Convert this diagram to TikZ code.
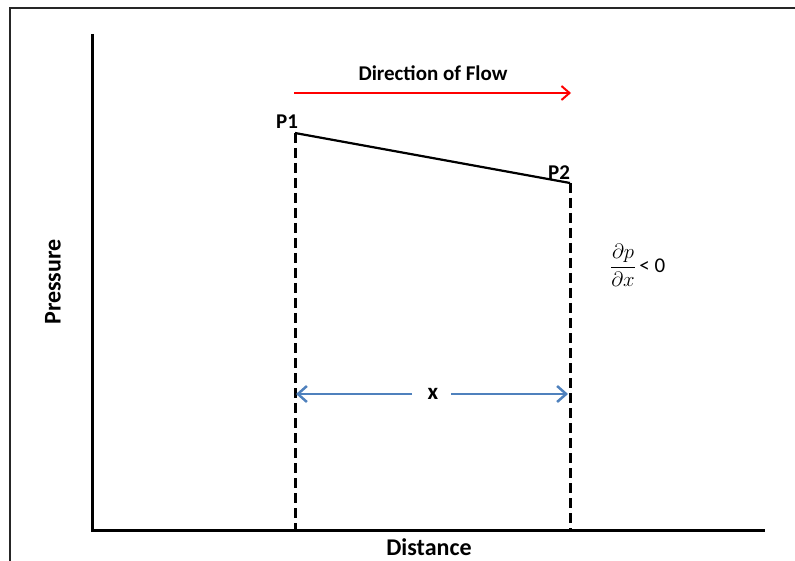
\documentclass[tikz,border=0pt]{standalone}
\usepackage{amsmath}
\usepackage{fontspec}
\setmainfont{Carlito}
\usetikzlibrary{arrows.meta}
\definecolor{flowred}{RGB}{255,0,0}
\definecolor{dimblue}{RGB}{79,129,189}
\tikzset{
  axisline/.style={line width=3pt, black},
  dashline/.style={line width=3pt, black, dash pattern=on 10pt off 5pt},
  lbl/.style={font=\fontsize{21}{25}\selectfont\bfseries, inner sep=0pt},
  axlbl/.style={font=\fontsize{24}{28}\selectfont\bfseries, inner sep=0pt},
  barb/.style={-{Straight Barb[length=9pt,width=16pt,line width=2.5pt]}},
}
\begin{document}
\begin{tikzpicture}[x=1pt,y=-1pt]
\useasboundingbox (0,0) rectangle (795,561);
% frame
\draw[line width=2pt, black!85] (9.5,561) -- (9.5,8) -- (795,8);
% axes
\coordinate (ytop) at (92,34);
\coordinate (orig) at (92,530);
\coordinate (xend) at (765,530);
\draw[axisline] (ytop) -- (orig) -- (xend);
% points
\coordinate (p1) at (295,133);
\coordinate (p2) at (570,183);
\coordinate (b1) at (295,531);
\coordinate (b2) at (570,531);
\draw[dashline] (p1) -- (b1);
\draw[dashline] (p2) -- (b2);
\draw[line width=2.2pt] (p1) -- (p2);
\node[lbl] (lp1) at (287,122) {P1};
\node[lbl] (lp2) at (559,173) {P2};
% flow arrow
\node[lbl] (dof) at (433,73) {Direction of Flow};
\coordinate (fa) at (294,93);
\coordinate (fb) at (571,93);
\draw[flowred, line width=2pt, -{Straight Barb[length=8pt,width=14pt,line width=2pt]}] (fa) -- (fb);
% dimension arrow
\node[lbl, font=\fontsize{23}{26}\selectfont\bfseries] (xl) at (433,394) {x};
\coordinate (da) at (296,394);
\coordinate (db) at (568,394);
\coordinate (ga) at (412,394);
\coordinate (gb) at (451,394);
\draw[dimblue, line width=2.5pt, barb] (ga) -- (da);
\draw[dimblue, line width=2.5pt, barb] (gb) -- (db);
% gradient
\node[inner sep=0pt, anchor=west] (grad) at (610,265) {\fontsize{21}{24}\selectfont$\dfrac{\partial p}{\partial x}$\fontsize{21}{24}\selectfont\,< 0};
% axis labels
\node[axlbl, rotate=90] (pres) at (53,282) {Pressure};
\node[axlbl] (dist) at (429,547) {Distance};
\end{tikzpicture}
\end{document}
